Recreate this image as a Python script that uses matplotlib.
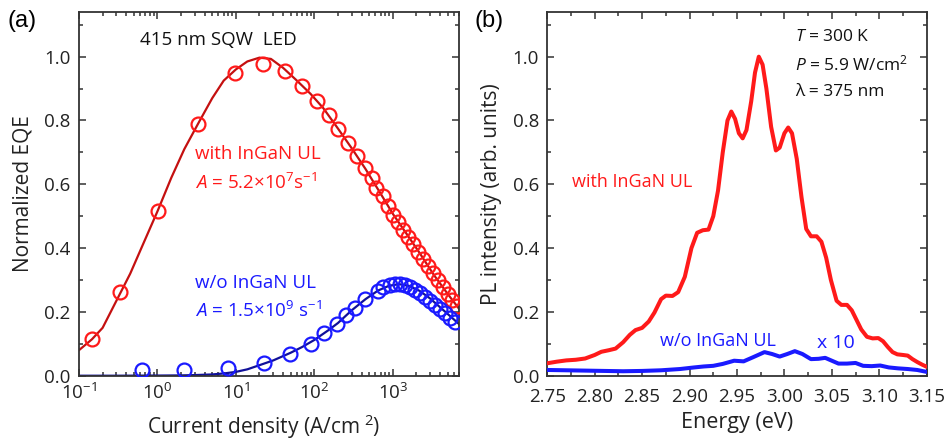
import numpy as np
import matplotlib
matplotlib.use("Agg")
import matplotlib.pyplot as plt
from matplotlib.ticker import (LogLocator, MultipleLocator, NullFormatter, FixedLocator,
                               FormatStrFormatter)

plt.rcParams['font.family'] = ['Open Sans', 'DejaVu Sans']
plt.rcParams['mathtext.fontset'] = 'custom'
plt.rcParams['mathtext.rm'] = 'Open Sans'
plt.rcParams['mathtext.it'] = 'Open Sans:italic'
plt.rcParams['mathtext.bf'] = 'Open Sans:bold'

# ---- (a) EQE vs current density ----
j_with = [0.146, 0.334, 1.03, 3.33, 9.7, 22.4, 42, 70, 107, 153, 202, 271, 346, 441,
          537, 620, 742, 873, 1014, 1175, 1360, 1575, 1820, 2100, 2430, 2800, 3240,
          3740, 4320, 5000, 5780, 6600]
eqe_with = [0.114, 0.261, 0.515, 0.789, 0.95, 0.978, 0.955, 0.908, 0.862, 0.818, 0.774,
            0.73, 0.688, 0.651, 0.62, 0.588, 0.562, 0.531, 0.505, 0.481, 0.458, 0.435,
            0.412, 0.389, 0.366, 0.343, 0.321, 0.299, 0.278, 0.257, 0.237, 0.22]

j_wo = [0.63, 2.2, 7.9, 22.8, 49, 90.6, 134, 192, 257, 327, 442, 640, 760, 913, 1060,
        1230, 1420, 1650, 1910, 2210, 2560, 2970, 3440, 3980, 4610, 5340, 6180]
eqe_wo = [0.018, 0.018, 0.023, 0.041, 0.067, 0.1, 0.133, 0.162, 0.19, 0.212, 0.24,
          0.267, 0.278, 0.285, 0.288, 0.287, 0.283, 0.277, 0.268, 0.258, 0.247, 0.235,
          0.222, 0.209, 0.196, 0.182, 0.168]

j_fit_with = [0.1, 0.146, 0.2, 0.3, 0.45, 0.65, 1.0, 1.5, 2.2, 3.3, 5, 7, 10, 14, 20, 28,
              40, 60, 90, 130, 200, 300, 450, 700, 1000, 1500, 2200, 3300, 5000, 7000]
eqe_fit_with = [0.08, 0.114, 0.15, 0.235, 0.32, 0.41, 0.515, 0.62, 0.71, 0.79, 0.87, 0.925,
                0.96, 0.985, 0.997, 0.993, 0.965, 0.925, 0.883, 0.839, 0.775, 0.713, 0.648,
                0.571, 0.508, 0.445, 0.385, 0.318, 0.257, 0.21]

j_fit_wo = [0.1, 0.3, 1, 2, 3, 5, 7, 10, 14, 20, 30, 50, 70, 100, 150, 200, 300, 450, 650,
            900, 1200, 1600, 2200, 3000, 4000, 5500, 7000]
eqe_fit_wo = [0.0, 0.0, 0.0005, 0.001, 0.002, 0.004, 0.007, 0.012, 0.02, 0.033, 0.048,
              0.072, 0.09, 0.112, 0.142, 0.165, 0.205, 0.24, 0.267, 0.282, 0.287, 0.282,
              0.266, 0.242, 0.215, 0.185, 0.162]

# ---- (b) PL spectra ----
e_with = [2.750, 2.760, 2.770, 2.780, 2.790, 2.800, 2.807, 2.815, 2.822, 2.830, 2.837,
          2.843, 2.850, 2.857, 2.863, 2.870, 2.875, 2.882, 2.888, 2.895, 2.902, 2.908,
          2.914, 2.920, 2.925, 2.930, 2.935, 2.940, 2.944, 2.948, 2.952, 2.956, 2.960,
          2.965, 2.969, 2.973, 2.977, 2.981, 2.986, 2.991, 2.995, 3.000, 3.004, 3.008,
          3.013, 3.018, 3.023, 3.028, 3.034, 3.039, 3.044, 3.049, 3.055, 3.060, 3.066,
          3.071, 3.076, 3.081, 3.087, 3.093, 3.099, 3.104, 3.109, 3.114, 3.119, 3.125,
          3.130, 3.135, 3.140, 3.145, 3.150]
pl_with = [0.039, 0.044, 0.048, 0.050, 0.054, 0.065, 0.075, 0.080, 0.085, 0.105, 0.128,
           0.143, 0.150, 0.170, 0.198, 0.240, 0.251, 0.250, 0.262, 0.310, 0.400, 0.448,
           0.456, 0.458, 0.500, 0.580, 0.700, 0.800, 0.828, 0.805, 0.760, 0.744, 0.770,
           0.860, 0.950, 1.000, 0.975, 0.900, 0.780, 0.706, 0.715, 0.760, 0.778, 0.760,
           0.680, 0.560, 0.460, 0.437, 0.437, 0.420, 0.370, 0.300, 0.235, 0.222, 0.222,
           0.205, 0.175, 0.145, 0.122, 0.117, 0.118, 0.108, 0.090, 0.074, 0.067, 0.065,
           0.063, 0.052, 0.043, 0.035, 0.028]

e_wo = [2.750, 2.770, 2.790, 2.810, 2.830, 2.850, 2.870, 2.890, 2.905, 2.915, 2.925,
        2.935, 2.947, 2.957, 2.967, 2.979, 2.987, 2.995, 3.003, 3.011, 3.019, 3.028,
        3.036, 3.043, 3.050, 3.057, 3.066, 3.075, 3.083, 3.092, 3.101, 3.110, 3.120,
        3.130, 3.140, 3.150]
pl_wo = [0.018, 0.017, 0.016, 0.015, 0.014, 0.015, 0.017, 0.021, 0.026, 0.029, 0.031,
         0.037, 0.047, 0.045, 0.058, 0.074, 0.068, 0.060, 0.068, 0.077, 0.068, 0.052,
         0.053, 0.056, 0.047, 0.038, 0.038, 0.040, 0.031, 0.030, 0.032, 0.026, 0.023,
         0.021, 0.018, 0.012]

RED = '#ff1a1a'
DARKRED = '#c41010'
BLUE = '#1a1aff'
DARKBLUE = '#10109a'
SPINE = '#333333'
TXT = '#222222'

fig = plt.figure(figsize=(9.46, 4.40), dpi=100)
ax1 = fig.add_axes([0.0835, 0.1461, 0.4017, 0.8266])
ax2 = fig.add_axes([0.5785, 0.1461, 0.4011, 0.8266])

def style(ax, xpad):
    for s in ax.spines.values():
        s.set_color(SPINE)
        s.set_linewidth(1.3)
    ax.tick_params(which='both', direction='in', top=True, right=True, colors=SPINE,
                   labelcolor=TXT, labelsize=13.5, width=1.1)
    ax.tick_params(which='major', length=5)
    ax.tick_params(which='minor', length=3)
    ax.tick_params(axis='y', which='both', pad=6)
    ax.tick_params(axis='x', which='both', pad=xpad)
    ax.set_ylim(0, 1.14)
    ax.yaxis.set_major_locator(FixedLocator([0.0, 0.2, 0.4, 0.6, 0.8, 1.0]))
    ax.yaxis.set_minor_locator(MultipleLocator(0.1))
    ax.set_yticklabels(['0.0', '0.2', '0.4', '0.6', '0.8', '1.0'])

# panel (a)
style(ax1, 5.5)
ax1.set_xscale('log')
ax1.set_xlim(0.1, 7000)
ax1.xaxis.set_major_locator(LogLocator(base=10, numticks=10))
ax1.xaxis.set_minor_locator(LogLocator(base=10, subs=np.arange(2, 10), numticks=20))
ax1.xaxis.set_minor_formatter(NullFormatter())
ax1.plot(j_fit_with, eqe_fit_with, color=DARKRED, lw=1.6, zorder=2)
ax1.plot(j_fit_wo, eqe_fit_wo, color=DARKBLUE, lw=1.6, zorder=2)
ax1.plot(j_with, eqe_with, 'o', mfc='none', mec=RED, ms=10, mew=1.6, zorder=3)
ax1.plot(j_wo, eqe_wo, 'o', mfc='none', mec=BLUE, ms=10, mew=1.6, zorder=3)
ax1.set_xlabel('Current density (A/cm$^{\\ 2}$)', fontsize=15, color=TXT)
ax1.set_ylabel('Normalized EQE', fontsize=15, color=TXT)
ax1.xaxis.set_label_coords(0.485, -0.1)
ax1.yaxis.set_label_coords(-0.121, 0.5)
ax1.text(0.6, 1.052, '415 nm SQW  LED', fontsize=13.5, color='#111111',
         ha='left', va='center')
ax1.text(3.0, 0.695, 'with InGaN UL', fontsize=13.5, color=RED, ha='left', va='center')
ax1.text(3.0, 0.605, r'$\mathit{A}$ = 5.2×10$^{7}$s$^{-1}$', fontsize=13.5, color=RED,
         ha='left', va='center')
ax1.text(3.0, 0.29, 'w/o InGaN UL', fontsize=13.5, color=BLUE, ha='left', va='center')
ax1.text(3.0, 0.202, r'$\mathit{A}$ = 1.5×10$^{9}$ s$^{-1}$', fontsize=13.5, color=BLUE,
         ha='left', va='center')

# panel (b)
style(ax2, 8.5)
ax2.set_xlim(2.75, 3.15)
ax2.xaxis.set_major_locator(MultipleLocator(0.05))
ax2.xaxis.set_minor_locator(MultipleLocator(0.025))
ax2.xaxis.set_major_formatter(FormatStrFormatter('%.2f'))
ax2.plot(e_with, pl_with, color=RED, lw=2.9, solid_capstyle='round', zorder=3)
ax2.plot(e_wo, pl_wo, color=BLUE, lw=2.9, solid_capstyle='round', zorder=3)
ax2.set_xlabel('Energy (eV)', fontsize=15.5, color=TXT)
ax2.set_ylabel('PL intensity (arb. units)', fontsize=15, color=TXT)
ax2.xaxis.set_label_coords(0.5, -0.1)
ax2.yaxis.set_label_coords(-0.118, 0.5)
ax2.text(3.011, 1.062, r'$\mathit{T}$ = 300 K', fontsize=12.5, color='#111111',
         ha='left', va='center')
ax2.text(3.011, 0.977, r'$\mathit{P}$ = 5.9 W/cm$^{2}$', fontsize=12.5, color='#111111',
         ha='left', va='center')
ax2.text(3.011, 0.888, 'λ = 375 nm', fontsize=12.5, color='#111111',
         ha='left', va='center')
ax2.text(2.776, 0.607, 'with InGaN UL', fontsize=13, color=RED, ha='left', va='center')
ax2.text(2.869, 0.108, 'w/o InGaN UL', fontsize=13, color=BLUE, ha='left', va='center')
ax2.text(3.034, 0.101, 'x 10', fontsize=14, color=BLUE, ha='left', va='center')

fig.text(0.0074, 0.952, '(a)', fontsize=17, family='Liberation Sans', ha='left', va='center')
fig.text(0.502, 0.952, '(b)', fontsize=17, family='Liberation Sans', ha='left', va='center')

fig.savefig('out.png', dpi=100)
